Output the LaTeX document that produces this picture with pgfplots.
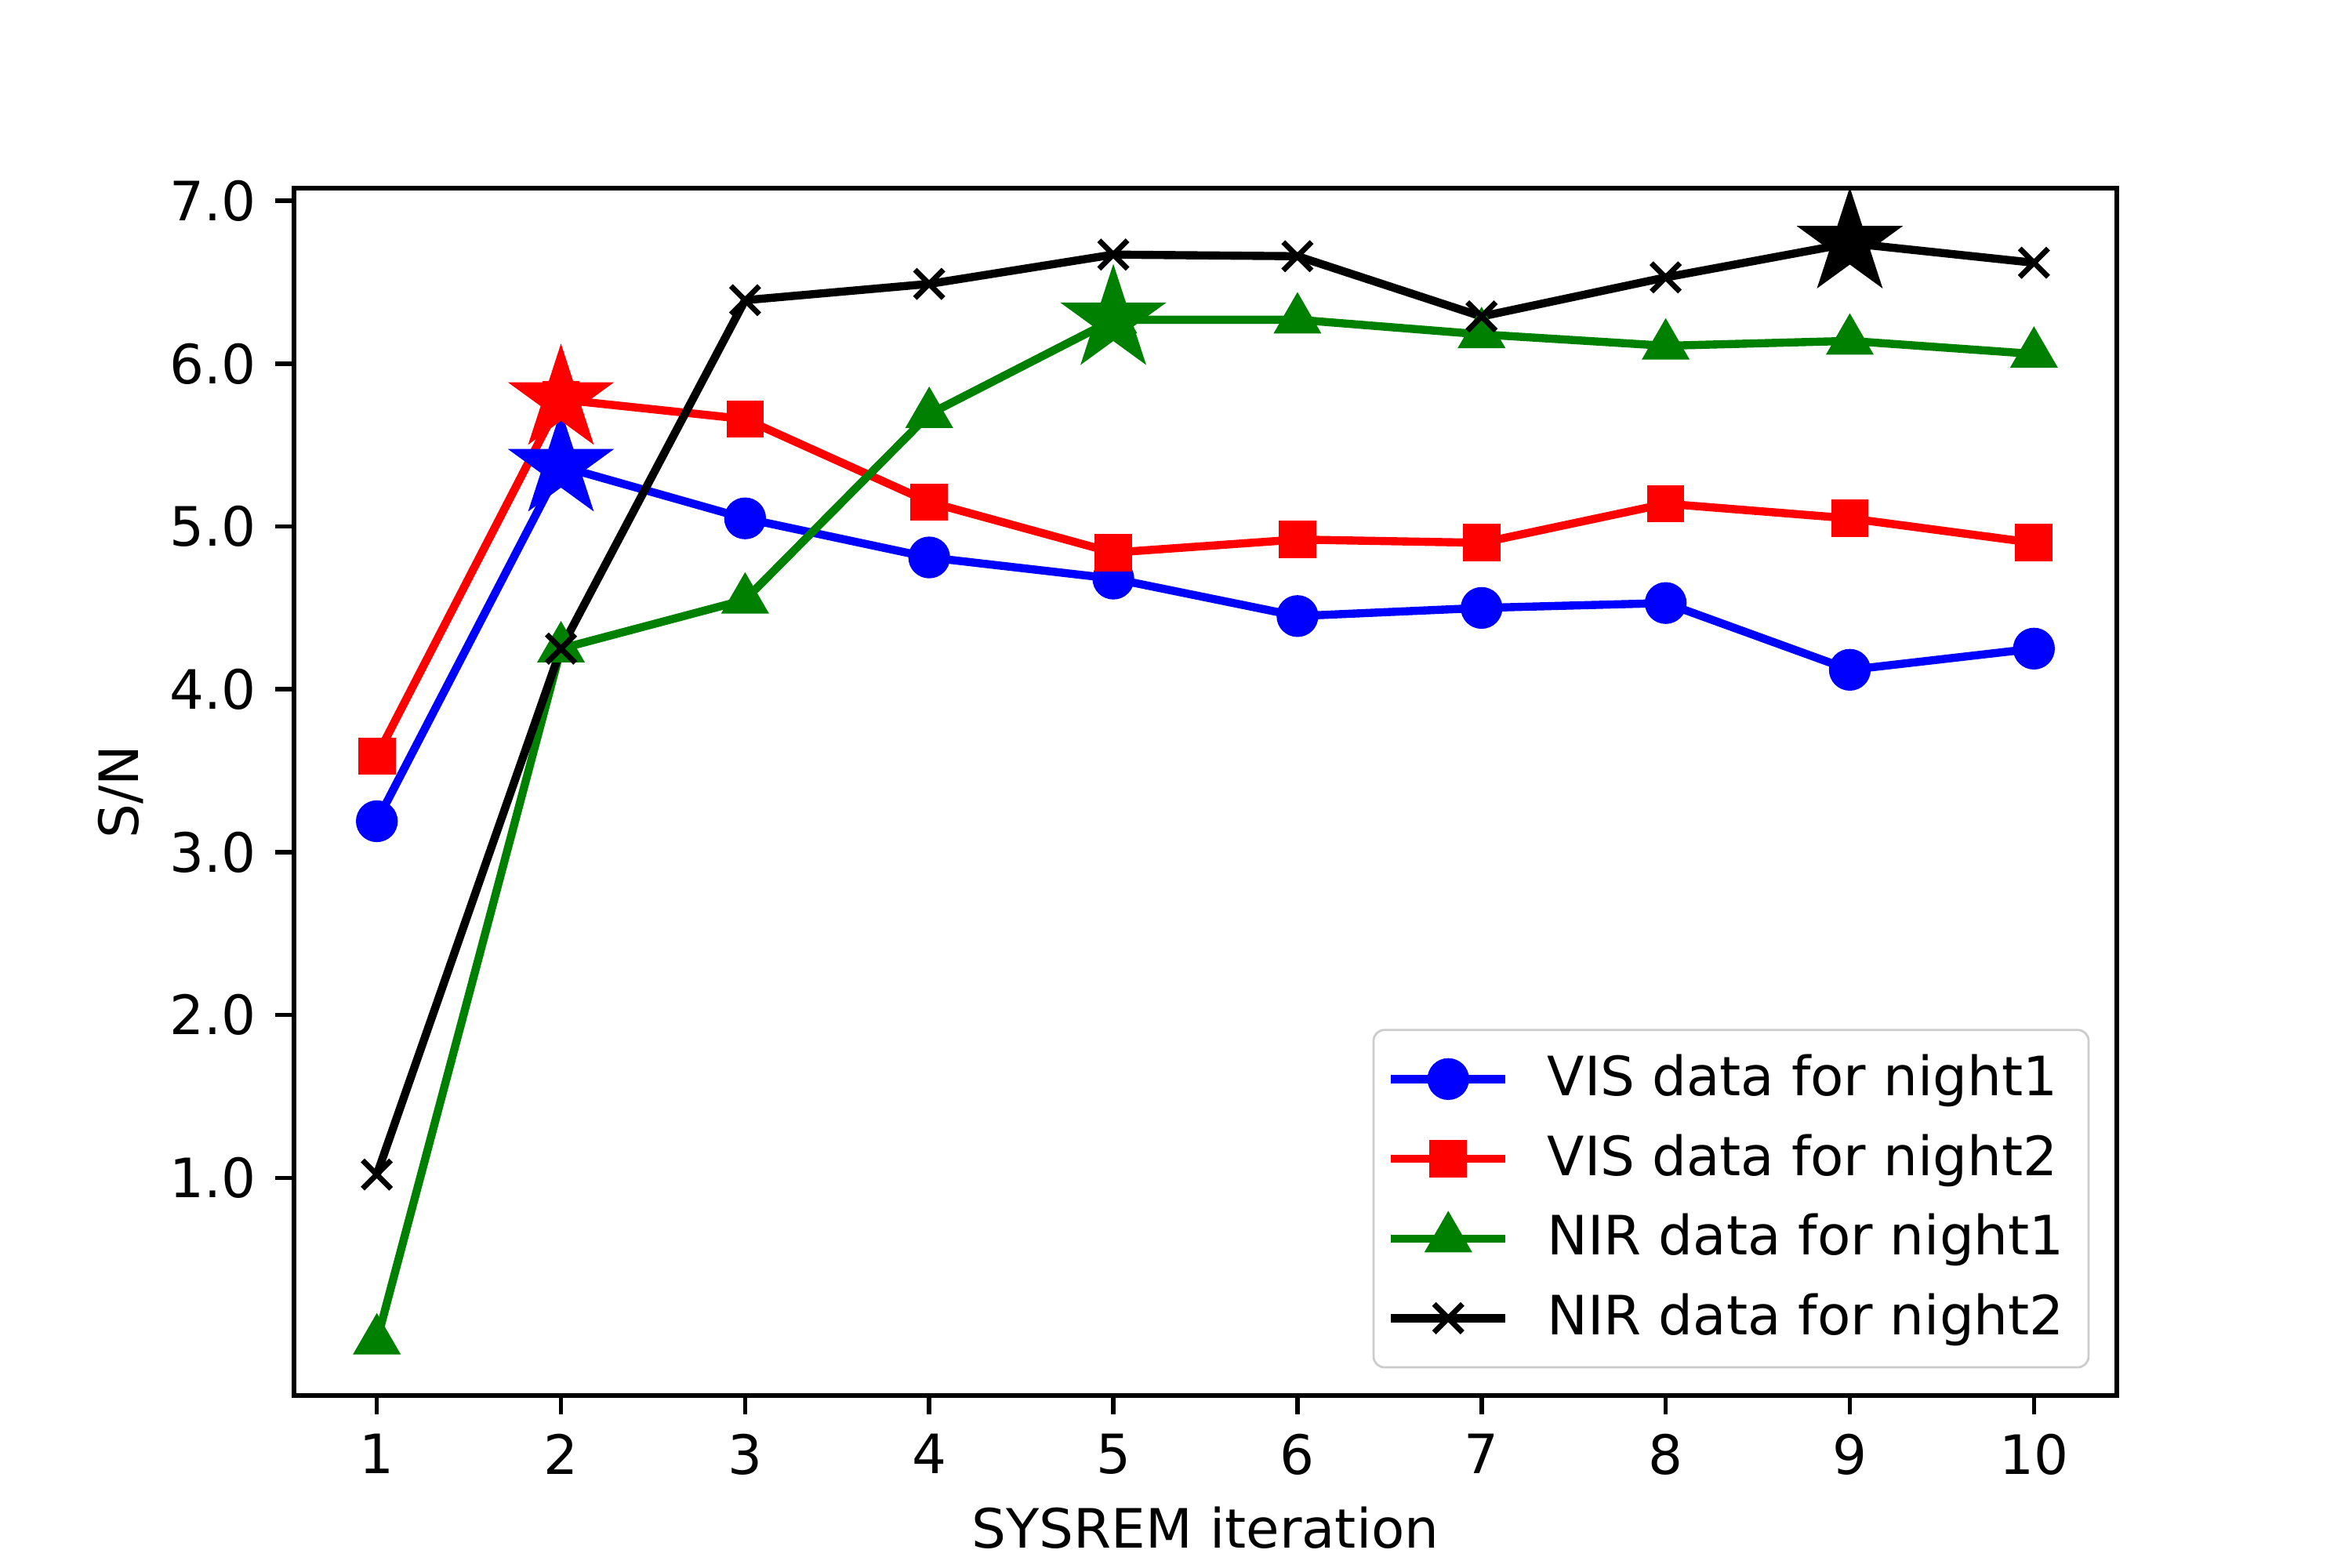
\documentclass[border=0pt]{standalone}
\usepackage{fontspec}
\setmainfont{DejaVu Sans}
\usepackage{pgfplots}
\pgfplotsset{compat=1.18}
\definecolor{mgreen}{RGB}{0,128,0}
\pgfdeclareplotmark{fstar}{%
  \pgfpathmoveto{\pgfqpointpolar{90}{\pgfplotmarksize}}%
  \pgfpathlineto{\pgfqpointpolar{126}{0.382\pgfplotmarksize}}%
  \pgfpathlineto{\pgfqpointpolar{162}{\pgfplotmarksize}}%
  \pgfpathlineto{\pgfqpointpolar{198}{0.382\pgfplotmarksize}}%
  \pgfpathlineto{\pgfqpointpolar{234}{\pgfplotmarksize}}%
  \pgfpathlineto{\pgfqpointpolar{270}{0.382\pgfplotmarksize}}%
  \pgfpathlineto{\pgfqpointpolar{306}{\pgfplotmarksize}}%
  \pgfpathlineto{\pgfqpointpolar{342}{0.382\pgfplotmarksize}}%
  \pgfpathlineto{\pgfqpointpolar{18}{\pgfplotmarksize}}%
  \pgfpathlineto{\pgfqpointpolar{54}{0.382\pgfplotmarksize}}%
  \pgfpathclose
  \pgfusepathqfillstroke
}
\begin{document}
\begin{tikzpicture}
\path[use as bounding box] (-0.75in,-0.44in) rectangle (5.25in,3.56in);
\begin{axis}[
  at={(0,0)}, anchor=south west,
  scale only axis,
  width=4.65in, height=3.08in,
  xmin=0.55, xmax=10.45,
  ymin=-0.337, ymax=7.078,
  xtick={1,2,3,4,5,6,7,8,9,10},
  ytick={1,2,3,4,5,6,7},
  yticklabel style={/pgf/number format/.cd,fixed,fixed zerofill,precision=1},
  /pgf/number format/assume math mode=true,
  tick align=outside,
  tick pos=left,
  major tick length=3.5pt,
  every tick/.style={black, line width=0.8pt},
  axis line style={line width=0.8pt},
  xlabel={SYSREM iteration},
  ylabel={S/N},
  xlabel style={yshift=1pt},
  ylabel style={yshift=-2pt},
  legend style={at={(1,0)}, anchor=south east, xshift=-5pt, yshift=5pt,
    draw=black!20, rounded corners=2pt, fill=white,
    font=\fontsize{10}{12}\selectfont, row sep=1.6pt, inner xsep=2.5pt, inner ysep=2.5pt,
    /tikz/every odd column/.append style={column sep=5pt}},
  legend cell align=left,
  legend image post style={line width=1.5pt},
  legend image code/.code={\draw[mark repeat=2,mark phase=2] plot coordinates {(0cm,0cm)(0.37cm,0cm)(0.74cm,0cm)};},
]
\addplot[blue, line width=1.5pt, mark=*, mark size=3.1pt, mark options={solid}] coordinates {
(1,3.19) (2,5.37) (3,5.05) (4,4.81) (5,4.68) (6,4.45) (7,4.50) (8,4.53) (9,4.12) (10,4.25)};
\addlegendentry{VIS data for night1}
\addplot[red, line width=1.5pt, mark=square*, mark size=2.7pt] coordinates {
(1,3.59) (2,5.78) (3,5.66) (4,5.15) (5,4.84) (6,4.92) (7,4.90) (8,5.14) (9,5.05) (10,4.90)};
\addlegendentry{VIS data for night2}
\addplot[mgreen, line width=1.5pt, mark=triangle*, mark size=3.6pt] coordinates {
(1,0.0) (2,4.25) (3,4.55) (4,5.69) (5,6.27) (6,6.27) (7,6.18) (8,6.11) (9,6.14) (10,6.06)};
\addlegendentry{NIR data for night1}
\addplot[black, line width=1.5pt, mark=x, mark size=3.7pt, mark options={line width=1pt}] coordinates {
(1,1.02) (2,4.25) (3,6.39) (4,6.49) (5,6.67) (6,6.66) (7,6.29) (8,6.53) (9,6.74) (10,6.62)};
\addlegendentry{NIR data for night2}
\addplot[only marks, blue, mark=fstar, mark size=9.5pt, mark options={fill=blue, line width=0.5pt}, forget plot] coordinates {(2,5.37)};
\addplot[only marks, red, mark=fstar, mark size=9.5pt, mark options={fill=red, line width=0.5pt}, forget plot] coordinates {(2,5.78)};
\addplot[only marks, mgreen, mark=fstar, mark size=9.5pt, mark options={fill=mgreen, line width=0.5pt}, forget plot] coordinates {(5,6.27)};
\addplot[only marks, black, mark=fstar, mark size=9.5pt, mark options={fill=black, line width=0.5pt}, forget plot] coordinates {(9,6.74)};
\end{axis}
\end{tikzpicture}
\end{document}
